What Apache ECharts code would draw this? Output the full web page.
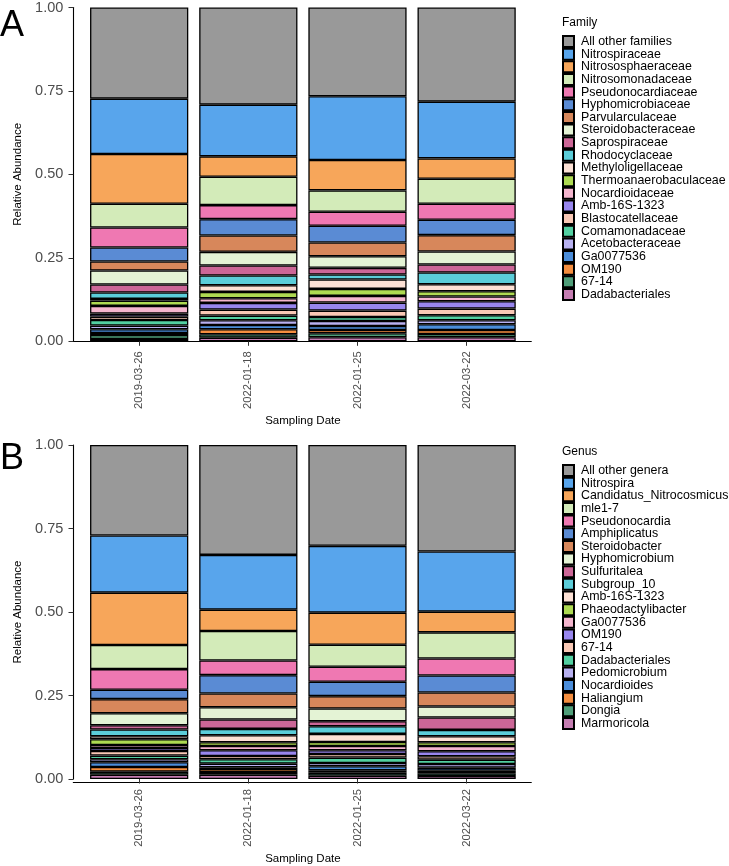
<!DOCTYPE html>
<html>
<head>
<meta charset="utf-8">
<script src="https://cdn.jsdelivr.net/npm/echarts@6/dist/echarts.min.js"></script>
<style>
  html, body { margin: 0; padding: 0; background: #fff; }
  #chart { width: 729px; height: 866px; }
</style>
</head>
<body>
<div id="chart"></div>
<script>
// categories
const dates = ["2019-03-26", "2022-01-18", "2022-01-25", "2022-03-22"];

// legend order (top of the stack first)
const familyNames = [
  "All other families", "Nitrospiraceae", "Nitrososphaeraceae", "Nitrosomonadaceae",
  "Pseudonocardiaceae", "Hyphomicrobiaceae", "Parvularculaceae", "Steroidobacteraceae",
  "Saprospiraceae", "Rhodocyclaceae", "Methyloligellaceae", "Thermoanaerobaculaceae",
  "Nocardioidaceae", "Amb-16S-1323", "Blastocatellaceae", "Comamonadaceae",
  "Acetobacteraceae", "Ga0077536", "OM190", "67-14", "Dadabacteriales"
];
// relative abundance per family, one value per date
const familyValues = [
  [0.273, 0.291, 0.266, 0.282],
  [0.166, 0.155, 0.191, 0.170],
  [0.149, 0.061, 0.091, 0.061],
  [0.071, 0.085, 0.064, 0.075],
  [0.060, 0.042, 0.042, 0.048],
  [0.042, 0.049, 0.050, 0.046],
  [0.027, 0.049, 0.041, 0.049],
  [0.042, 0.041, 0.035, 0.039],
  [0.024, 0.030, 0.020, 0.024],
  [0.019, 0.029, 0.015, 0.035],
  [0.005, 0.020, 0.028, 0.021],
  [0.016, 0.019, 0.021, 0.016],
  [0.023, 0.014, 0.020, 0.014],
  [0.009, 0.020, 0.024, 0.022],
  [0.010, 0.018, 0.019, 0.020],
  [0.017, 0.014, 0.012, 0.015],
  [0.011, 0.014, 0.015, 0.012],
  [0.011, 0.013, 0.012, 0.017],
  [0.006, 0.015, 0.010, 0.012],
  [0.012, 0.010, 0.012, 0.010],
  [0.007, 0.011, 0.012, 0.012]
];

const genusNames = [
  "All other genera", "Nitrospira", "Candidatus_Nitrocosmicus", "mle1-7",
  "Pseudonocardia", "Amphiplicatus", "Steroidobacter", "Hyphomicrobium",
  "Sulfuritalea", "Subgroup_10", "Amb-16S-1323", "Phaeodactylibacter",
  "Ga0077536", "OM190", "67-14", "Dadabacteriales", "Pedomicrobium",
  "Nocardioides", "Haliangium", "Dongia", "Marmoricola"
];
const genusValues = [
  [0.271, 0.329, 0.302, 0.319],
  [0.171, 0.164, 0.200, 0.180],
  [0.157, 0.064, 0.096, 0.062],
  [0.072, 0.088, 0.066, 0.078],
  [0.062, 0.044, 0.045, 0.051],
  [0.028, 0.055, 0.043, 0.051],
  [0.042, 0.041, 0.037, 0.042],
  [0.036, 0.037, 0.038, 0.033],
  [0.013, 0.028, 0.015, 0.037],
  [0.020, 0.019, 0.023, 0.019],
  [0.009, 0.021, 0.024, 0.018],
  [0.017, 0.011, 0.012, 0.011],
  [0.009, 0.013, 0.013, 0.016],
  [0.009, 0.017, 0.011, 0.015],
  [0.014, 0.010, 0.011, 0.010],
  [0.011, 0.013, 0.016, 0.013],
  [0.009, 0.011, 0.010, 0.011],
  [0.014, 0.005, 0.012, 0.009],
  [0.014, 0.009, 0.007, 0.008],
  [0.009, 0.008, 0.009, 0.008],
  [0.013, 0.013, 0.010, 0.009]
];

// fill colour by legend position (same palette in both panels)
const taxonColors = [
  "#999999", "#58A5EC", "#F7A65A", "#D3EBB9", "#EF78B2", "#5A8BD4", "#D7875B",
  "#E4F3D5", "#CC6697", "#5BCDD9", "#FDE1D5", "#AEDA52", "#F5B6CF", "#9886EE",
  "#F9C8B5", "#52CFA1", "#B8B1F1", "#4B8DDA", "#F58E3F", "#4F9E79", "#C57DB2"
];

const yTicks = [0, 0.25, 0.5, 0.75, 1];

const chart = echarts.init(document.getElementById("chart"));

// plot areas: A at 5.3..341.3, B at 445..782.3
const panels = [
  { key: "A", title: "Family", names: familyNames, values: familyValues, top: 5.3, height: 336, legendTop: 35, titleTop: 12, letterTop: 3 },
  { key: "B", title: "Genus", names: genusNames, values: genusValues, top: 445, height: 337.3, legendTop: 464, titleTop: 441, letterTop: 436 }
];

const grid = [], xAxis = [], yAxis = [], series = [], legend = [], title = [];

panels.forEach((p, pi) => {
  const plotIdx = pi * 2, frameIdx = pi * 2 + 1;
  // bars sit in a grid narrowed by the discrete expansion; frame grid carries the full x axis line
  grid.push({ left: 84.6, width: 436.6, top: p.top, height: p.height });
  grid.push({ left: 73.3, width: 458, top: p.top, height: p.height });

  xAxis.push({
    type: "category",
    gridIndex: plotIdx,
    data: dates,
    axisLine: { show: false },
    axisTick: { show: true, alignWithLabel: true, length: 4.5, lineStyle: { color: "#333" } },
    axisLabel: { rotate: 90, fontSize: 11.3, color: "#4D4D4D", margin: 10 },
    name: "Sampling Date",
    nameLocation: "middle",
    nameGap: 74,
    nameTextStyle: { fontSize: 11.5, color: "#000" }
  });
  xAxis.push({
    type: "value",
    gridIndex: frameIdx,
    min: 0, max: 1,
    axisLine: { show: true, lineStyle: { color: "#000", width: 1.1 } },
    axisTick: { show: false },
    axisLabel: { show: false },
    splitLine: { show: false }
  });

  yAxis.push({
    type: "value",
    gridIndex: plotIdx,
    min: yTicks[0], max: yTicks[yTicks.length - 1], interval: 0.25,
    offset: 11.3,
    axisLine: { show: true, lineStyle: { color: "#000", width: 1.1 } },
    axisTick: { show: true, length: 4.8, lineStyle: { color: "#333" } },
    axisLabel: { fontSize: 14.5, color: "#4D4D4D", margin: 10, formatter: v => v.toFixed(2) },
    splitLine: { show: false },
    name: "Relative Abundance",
    nameLocation: "middle",
    nameGap: 39,
    nameTextStyle: { fontSize: 11.5, color: "#000" }
  });
  yAxis.push({ type: "value", gridIndex: frameIdx, show: false, min: 0, max: 1 });

  // bottom of the stack first
  for (let i = p.names.length - 1; i >= 0; i--) {
    series.push({
      name: p.key + "|" + p.names[i],
      type: "bar",
      stack: p.key,
      xAxisIndex: plotIdx,
      yAxisIndex: plotIdx,
      barWidth: "90%",
      data: p.values[i],
      itemStyle: { color: taxonColors[i], borderColor: "#000", borderWidth: 1.3 },
      emphasis: { disabled: true }
    });
  }

  legend.push({
    orient: "vertical",
    left: 562,
    top: p.legendTop,
    padding: 0,
    data: p.names.map(n => p.key + "|" + n),
    formatter: n => n.split("|")[1],
    icon: "rect",
    itemWidth: 11,
    itemHeight: 11,
    itemGap: -0.35,
    selectedMode: false,
    textStyle: { fontSize: 12.4, color: "#000", padding: [0, 0, 0, 2] }
  });

  title.push({ text: p.key, left: -5, top: p.letterTop, textStyle: { fontSize: 36, fontWeight: "normal", color: "#000" } });
  title.push({ text: p.title, left: 557, top: p.titleTop, textStyle: { fontSize: 12, fontWeight: "normal", color: "#000" } });
});

chart.setOption({
  animation: false,
  textStyle: { fontFamily: "Liberation Sans, Arial, sans-serif" },
  title: title,
  grid: grid,
  xAxis: xAxis,
  yAxis: yAxis,
  legend: legend,
  series: series
});
</script>
</body>
</html>
